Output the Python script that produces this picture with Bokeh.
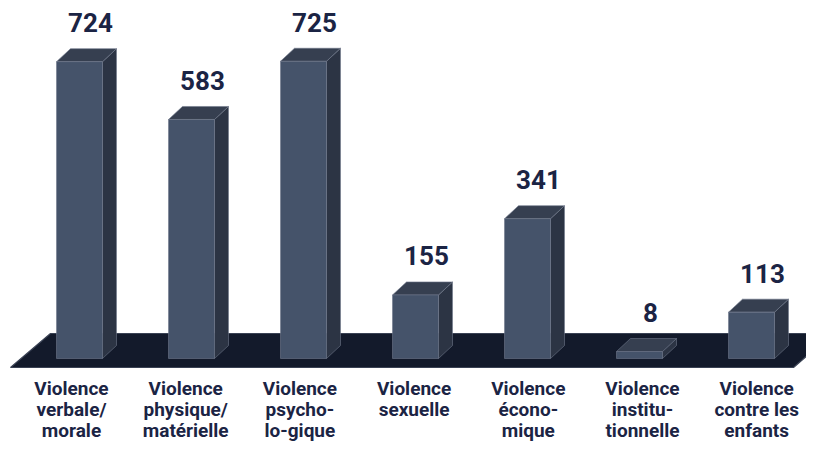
from bokeh.plotting import figure
from bokeh.models import Range1d
from bokeh.core.properties import value
from bokeh.embed import file_html
from bokeh.resources import INLINE

# ---- data ----
categories = [
    "Violence\nverbale/\nmorale",
    "Violence\nphysique/\nmatérielle",
    "Violence\npsycho-\nlo-gique",
    "Violence\nsexuelle",
    "Violence\nécono-\nmique",
    "Violence\ninstitu-\ntionnelle",
    "Violence\ncontre les\nenfants",
]
counts = [724, 583, 725, 155, 341, 8, 113]

# ---- geometry / style ----
W, H = 806, 441
PX_X = 112.0          # pixels per category step
PX_Y = 0.41           # pixels per count unit
BASE_PX = 83          # baseline distance from canvas bottom (px)
FIRST_PX = 79         # first bar centre from canvas left (px)

def ux(px):
    return px / PX_X

def uy(px):
    return px / PX_Y

bar_w = ux(46)
dx, dy = ux(14), uy(13)
min_h = uy(7)

FRONT = "#45536a"
SIDE = "#2c3444"
TOP = "#363f50"
EDGE = "#6f7789"
FLOOR = "#131a2b"
TEXT = "#1b2444"

x0 = -ux(FIRST_PX)
y0 = -uy(BASE_PX)
p = figure(width=W, height=H, output_backend="svg", toolbar_location=None,
           x_range=Range1d(x0, x0 + ux(W)), y_range=Range1d(y0, y0 + uy(H)),
           min_border=0)
p.axis.visible = False
p.grid.visible = False
p.outline_line_color = None
p.background_fill_color = "white"
p.border_fill_color = "white"

n = len(counts)
xs = list(range(n))

# floor parallelogram
fl_top, fl_bot = uy(25), -uy(9)
p.patch([0 - ux(69), 0 - ux(29), (n - 1) + ux(81), (n - 1) + ux(42)],
        [fl_bot, fl_top, fl_top, fl_bot],
        fill_color=FLOOR, line_color="#3a4254", line_width=1.2)

# bars (front, side, top)
hs = [max(v, min_h) for v in counts]
left = [x - bar_w / 2 for x in xs]
right = [x + bar_w / 2 for x in xs]
side_xs = [[r, r + dx, r + dx, r] for r in right]
side_ys = [[0, dy, h + dy, h] for h in hs]
top_xs = [[l, l + dx, r + dx, r] for l, r in zip(left, right)]
top_ys = [[h, h + dy, h + dy, h] for h in hs]
p.patches(side_xs, side_ys, fill_color=SIDE, line_color=EDGE, line_width=0.6)
p.patches(top_xs, top_ys, fill_color=TOP, line_color=EDGE, line_width=0.6)
p.quad(left=left, right=right, bottom=[0] * n, top=hs,
       fill_color=FRONT, line_color=EDGE, line_width=0.6)

# value labels
p.text(x=[x + ux(11) for x in xs], y=[h + dy + uy(26) for h in hs],
       text=[str(v) for v in counts], text_align="center",
       text_baseline="alphabetic", text_font=value("Roboto"),
       text_font_style="bold", text_font_size="26px", text_color=TEXT)

# category labels (one glyph per line)
LINE = 21
for k in range(3):
    lx, ly, lt = [], [], []
    for i, c in enumerate(categories):
        parts = c.split("\n")
        if k < len(parts):
            lx.append(i * 1.0196 - ux(8))
            ly.append(-uy(30 + LINE * k))
            lt.append(parts[k])
    p.text(x=lx, y=ly, text=lt, text_align="center", text_baseline="alphabetic",
           text_font=value("Roboto"), text_font_style="bold",
           text_font_size="19px", text_color=TEXT)

open("out.html", "w").write(file_html(p, INLINE))
